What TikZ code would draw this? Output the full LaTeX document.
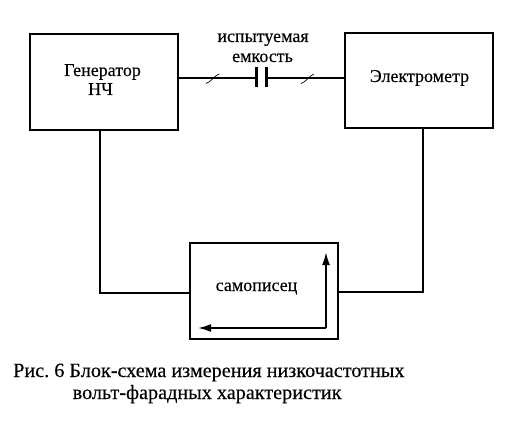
\documentclass[tikz,border=0pt]{standalone}
\usepackage{fontspec}
\setmainfont[FakeBold=0.25]{Liberation Serif}
\usetikzlibrary{arrows.meta}
\frenchspacing
\tikzset{
 blockbox/.style={draw=black,line width=2pt,fill=white,inner sep=0pt,outer sep=0pt},
 wire/.style={draw=black,line width=2pt},
 plate/.style={draw=black,line width=3pt},
 slash/.style={draw=black,line width=.7pt},
 lbl/.style={inner sep=0pt,anchor=base,font=\fontsize{18}{20}\selectfont},
 caption/.style={inner sep=0pt,anchor=base west,font=\fontsize{20.2}{23}\selectfont},
 trace/.style={draw=black,line width=2pt,-{Latex[length=13pt,width=8pt]}},
}
\begin{document}
\begin{tikzpicture}[x=1pt,y=-1pt]
\useasboundingbox[fill=white] (0,0) rectangle (525,433);
\node[blockbox,minimum width=148pt,minimum height=96pt] (gen) at (104,82) {};
\node[blockbox,minimum width=147.5pt,minimum height=95.5pt] (elec) at (418.75,80.75) {};
\node[blockbox,minimum width=148pt,minimum height=96pt] (rec) at (264,291) {};
\node[lbl] (gent) at (102.5,76) {Генератор};
\node[lbl] (gent2) at (100.5,95) {НЧ};
\node[lbl] (elect) at (419.5,82) {Электрометр};
\node[lbl] (rect) at (256.5,291) {самописец};
\node[lbl] (capt) at (263,42) {испытуемая};
\node[lbl] (capt2) at (262.5,62) {емкость};
\coordinate (pa) at (256,78);
\coordinate (pb) at (266,78);
\draw[wire] (gen.east |- pa) -- (pa);
\draw[wire] (pb) -- (elec.west |- pb);
\draw[plate] (256,67) -- (256,87);
\draw[plate] (266,67) -- (266,87);
\draw[slash] (206,83.5) .. controls (211,82) and (214,76) .. (219,74);
\draw[slash] (301,83.5) .. controls (306,82) and (309,76) .. (314,74);
\coordinate (lc) at (100,293);
\coordinate (rc) at (423,292);
\draw[wire] (gen.south -| lc) -- (lc) -- (rec.west |- lc);
\draw[wire] (elec.south -| rc) -- (rc) -- (rec.east |- rc);
\coordinate (tb) at (326,252);
\coordinate (tc) at (326,328);
\coordinate (te) at (198,328);
\draw[trace] (tc) -- (tb);
\draw[trace] (tc) -- (te);
\node[caption] (c1) at (13,377) {Рис. 6 Блок-схема измерения низкочастотных};
\node[caption] (c2) at (72.5,399) {вольт-фарадных характеристик};
\end{tikzpicture}
\end{document}
